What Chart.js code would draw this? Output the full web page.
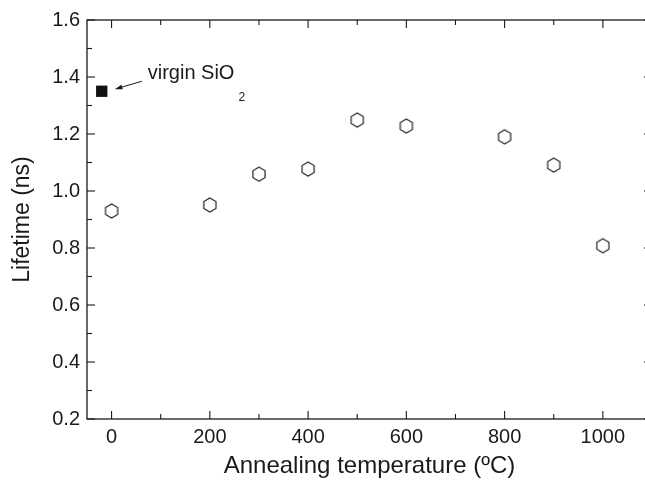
<!DOCTYPE html>
<html>
<head>
<meta charset="utf-8">
<script src="https://cdn.jsdelivr.net/npm/chart.js@4.4.1/dist/chart.umd.min.js"></script>
<style>
html,body{margin:0;padding:0;background:#fff;overflow:hidden;width:645px;height:481px;}
#wrap{width:660px;height:481px;}
</style>
</head>
<body>
<div id="wrap"><canvas id="c" width="660" height="481"></canvas></div>
<script>
// ---- data ----
const temps = [0, 200, 300, 400, 500, 600, 800, 900, 1000];
const lifetimes = [0.93, 0.951, 1.059, 1.077, 1.249, 1.228, 1.19, 1.091, 0.808];
const virginTemp = [-20];
const virginLifetime = [1.35];
const xTickValues = [0, 200, 400, 600, 800, 1000];
const yTickValues = [0.2, 0.4, 0.6, 0.8, 1.0, 1.2, 1.4, 1.6];
const xMinorValues = [100, 300, 500, 700, 900];
const yMinorValues = [0.3, 0.5, 0.7, 0.9, 1.1, 1.3, 1.5];
const annotationText = 'virgin SiO';
const annotationSub = '2';

const FONT = 'Liberation Sans, Arial, sans-serif';
const INK = '#1a1a1a';

// hexagon marker
function hexMarker() {
  const c = document.createElement('canvas');
  c.width = 18; c.height = 18;
  const g = c.getContext('2d');
  g.strokeStyle = '#222';
  g.lineWidth = 1.2;
  g.beginPath();
  for (let k = 0; k < 6; k++) {
    const a = (-90 + 60 * k) * Math.PI / 180;
    const x = 9 + 7 * Math.cos(a), y = 9 + 7 * Math.sin(a);
    k ? g.lineTo(x, y) : g.moveTo(x, y);
  }
  g.closePath();
  g.stroke();
  return c;
}

const framePlugin = {
  id: 'frame',
  afterDraw(chart) {
    const {ctx, chartArea: a, scales: {x, y}} = chart;
    ctx.save();
    ctx.strokeStyle = INK;
    ctx.lineWidth = 1.3;
    ctx.strokeRect(a.left, a.top, a.right - a.left, a.bottom - a.top);
    ctx.lineWidth = 1.1;
    const tick = (x1, y1, x2, y2) => { ctx.beginPath(); ctx.moveTo(x1, y1); ctx.lineTo(x2, y2); ctx.stroke(); };
    xTickValues.forEach(v => { const p = x.getPixelForValue(v); tick(p, a.bottom, p, a.bottom - 8); tick(p, a.top, p, a.top + 8); });
    xMinorValues.forEach(v => { const p = x.getPixelForValue(v); tick(p, a.bottom, p, a.bottom - 5); tick(p, a.top, p, a.top + 5); });
    yTickValues.forEach(v => { const p = y.getPixelForValue(v); tick(a.left, p, a.left + 8, p); tick(a.right, p, a.right - 8, p); });
    yMinorValues.forEach(v => { const p = y.getPixelForValue(v); tick(a.left, p, a.left + 5, p); tick(a.right, p, a.right - 5, p); });

    // annotation
    const px = x.getPixelForValue(virginTemp[0]);
    const py = y.getPixelForValue(virginLifetime[0]);
    ctx.fillStyle = INK;
    ctx.font = '20px ' + FONT;
    ctx.textBaseline = 'alphabetic';
    ctx.textAlign = 'left';
    ctx.fillText(annotationText, px + 46, py - 12);
    const w = ctx.measureText(annotationText).width;
    ctx.font = '12px ' + FONT;
    ctx.fillText(annotationSub, px + 46 + w + 4, py + 10);
    // arrow
    const x1 = px + 40, y1 = py - 10, x2 = px + 13, y2 = py - 2;
    ctx.lineWidth = 1;
    tick(x1, y1, x2 + 4, y2 - 1.2);
    const ang = Math.atan2(y2 - y1, x2 - x1);
    ctx.beginPath();
    ctx.moveTo(x2, y2);
    ctx.lineTo(x2 - 8 * Math.cos(ang - 0.3), y2 - 8 * Math.sin(ang - 0.3));
    ctx.lineTo(x2 - 8 * Math.cos(ang + 0.3), y2 - 8 * Math.sin(ang + 0.3));
    ctx.closePath();
    ctx.fill();
    ctx.restore();
  }
};

new Chart(document.getElementById('c'), {
  type: 'scatter',
  data: {
    datasets: [
      {
        label: 'annealed',
        data: temps.map((t, i) => ({x: t, y: lifetimes[i]})),
        pointStyle: hexMarker(),
        pointRadius: 7,
        showLine: false
      },
      {
        label: 'virgin',
        data: virginTemp.map((t, i) => ({x: t, y: virginLifetime[i]})),
        pointStyle: 'rect',
        pointRadius: 8,
        backgroundColor: '#111',
        borderColor: '#111',
        borderWidth: 0,
        showLine: false
      }
    ]
  },
  options: {
    responsive: false,
    animation: false,
    devicePixelRatio: 1,
    layout: {padding: {top: 20, right: 7, left: 0, bottom: 0}},
    plugins: {legend: {display: false}, tooltip: {enabled: false}},
    scales: {
      x: {
        type: 'linear',
        min: -50, max: 1100,
        afterBuildTicks: s => { s.ticks = xTickValues.map(v => ({value: v})); },
        afterFit: s => { s.height = 62; },
        grid: {display: false, drawTicks: false},
        border: {display: false},
        ticks: {color: INK, font: {family: FONT, size: 20}, padding: 6, maxRotation: 0, callback: v => String(v)},
        title: {display: true, text: 'Annealing temperature (ºC)', color: INK, font: {family: FONT, size: 24}, padding: {top: 2, bottom: 0}}
      },
      y: {
        type: 'linear',
        min: 0.2, max: 1.6,
        afterBuildTicks: s => { s.ticks = yTickValues.map(v => ({value: v})); },
        afterFit: s => { s.width = 87; },
        grid: {display: false, drawTicks: false},
        border: {display: false},
        ticks: {color: INK, font: {family: FONT, size: 20}, padding: 7, callback: v => Number(v).toFixed(1)},
        title: {display: true, text: 'Lifetime (ns)', color: INK, font: {family: FONT, size: 23}, padding: {top: 9, bottom: 0}}
      }
    }
  },
  plugins: [framePlugin]
});
</script>
</body>
</html>
